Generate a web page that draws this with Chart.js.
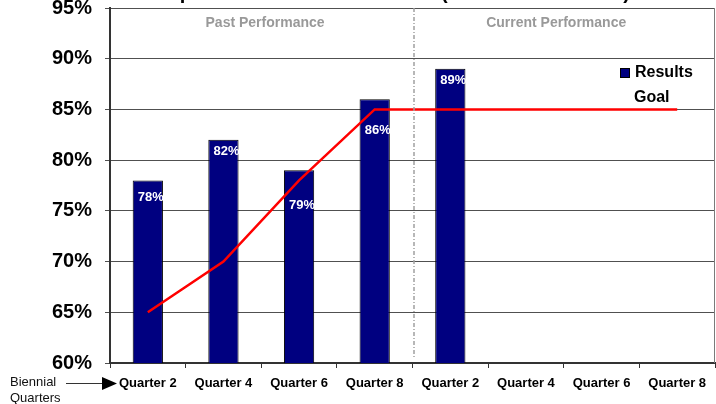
<!DOCTYPE html>
<html>
<head>
<meta charset="utf-8">
<script src="https://cdn.jsdelivr.net/npm/chart.js@4/dist/chart.umd.min.js"></script>
<style>
  html, body { margin: 0; padding: 0; background: #fff; }
  canvas { display: block; }
</style>
</head>
<body>
<canvas id="c" width="716" height="404"></canvas>
<script>
// Biennial quarters, past period then current period
const quarters = ['Quarter 2', 'Quarter 4', 'Quarter 6', 'Quarter 8',
                  'Quarter 2', 'Quarter 4', 'Quarter 6', 'Quarter 8'];
// Measured results (%) – current period only has its first quarter so far
const results = [78, 82, 79, 86, 89, null, null, null];
// Goal (%) per quarter
const goal = [65, 70, 78, 85, 85, 85, 85, 85];
// Section headings and the number of quarters in the past section
const sections = ['Past Performance', 'Current Performance'];
const pastCount = 4;
const seriesNames = ['Results', 'Goal'];
const titleText = 'Compliance Rate Trend Results (Biennial Measures)';
const axisNote = ['Biennial', 'Quarters'];

const FONT = 'Arial, "Liberation Sans", Helvetica, sans-serif';
Chart.defaults.font.family = FONT;

const NAVY = '#000080';
const RED = '#ff0000';

// vertical nudge of each value label below its bar top (px)
const labelDrop = [17, 12, 35, 31, 12];

const extras = {
  id: 'extras',
  afterDraw(chart) {
    const ctx = chart.ctx;
    const area = chart.chartArea;
    const xs = chart.scales.x;
    const step = xs.getPixelForValue(1) - xs.getPixelForValue(0);
    ctx.save();

    // right frame edge of the plot
    ctx.strokeStyle = '#7a7a7a';
    ctx.lineWidth = 1;
    ctx.beginPath();
    ctx.moveTo(Math.round(area.right) - 0.5, area.top);
    ctx.lineTo(Math.round(area.right) - 0.5, area.bottom);
    ctx.stroke();

    // dash-dot divider between past and current periods
    const divX = (xs.getPixelForValue(pastCount - 1) + xs.getPixelForValue(pastCount)) / 2 + 1.5;
    ctx.strokeStyle = '#a0a0a0';
    ctx.lineWidth = 1.5;
    ctx.setLineDash([4, 2, 1, 2]);
    ctx.beginPath();
    ctx.moveTo(divX, area.top);
    ctx.lineTo(divX, area.bottom - 6);
    ctx.stroke();
    ctx.setLineDash([]);

    // section headings
    ctx.fillStyle = '#999999';
    ctx.font = 'bold 14px ' + FONT;
    ctx.textAlign = 'center';
    ctx.textBaseline = 'middle';
    ctx.fillText(sections[0], xs.getPixelForValue(1) + step * 0.55, 23);
    ctx.fillText(sections[1], xs.getPixelForValue(5) + step * 0.4, 23);

    // value labels inside the bars
    const barMeta = chart.getDatasetMeta(1);
    ctx.fillStyle = '#ffffff';
    ctx.font = 'bold 13px ' + FONT;
    barMeta.data.forEach((bar, i) => {
      const v = results[i];
      if (v == null) return;
      ctx.fillText(Math.round(v) + '%', bar.x + 3, bar.y + labelDrop[i]);
    });

    // legend
    ctx.font = 'bold 16px ' + FONT;
    ctx.textAlign = 'left';
    ctx.fillStyle = NAVY;
    ctx.fillRect(620, 68, 10, 10);
    ctx.strokeStyle = '#000';
    ctx.lineWidth = 1;
    ctx.strokeRect(620.5, 68.5, 9, 9);
    ctx.fillStyle = '#000';
    ctx.fillText(seriesNames[0], 635, 73);
    ctx.fillText(seriesNames[1], 634, 98);

    // chart title (runs off the top edge)
    ctx.font = 'bold 20px ' + FONT;
    ctx.textBaseline = 'alphabetic';
    const cut = titleText.indexOf('(');
    const startX = 441 - ctx.measureText(titleText.slice(0, cut)).width;
    ctx.fillText(titleText, startX, -1.5);

    // axis note with arrow pointing at the quarter labels
    ctx.font = '13px ' + FONT;
    ctx.fillStyle = '#111';
    ctx.textBaseline = 'middle';
    ctx.fillText(axisNote[0], 10, 382);
    ctx.fillText(axisNote[1], 10, 398);
    ctx.strokeStyle = '#333';
    ctx.lineWidth = 1;
    ctx.beginPath();
    ctx.moveTo(66, 383.5);
    ctx.lineTo(104, 383.5);
    ctx.stroke();
    ctx.fillStyle = '#000';
    ctx.beginPath();
    ctx.moveTo(102, 377);
    ctx.lineTo(117, 383.5);
    ctx.lineTo(102, 390);
    ctx.closePath();
    ctx.fill();

    ctx.restore();
  }
};

new Chart(document.getElementById('c'), {
  type: 'bar',
  data: {
    labels: quarters,
    datasets: [
      {
        type: 'line',
        label: seriesNames[1],
        data: goal,
        borderColor: RED,
        borderWidth: 2.5,
        pointRadius: 0,
        tension: 0,
        fill: false,
        order: 0
      },
      {
        type: 'bar',
        label: seriesNames[0],
        data: results,
        backgroundColor: NAVY,
        borderColor: '#000',
        borderWidth: 1,
        barPercentage: 0.4,
        categoryPercentage: 1,
        order: 1
      }
    ]
  },
  options: {
    responsive: false,
    animation: false,
    devicePixelRatio: 1,
    layout: { padding: { left: 0, right: 1, top: 8, bottom: 0 } },
    plugins: {
      legend: { display: false },
      tooltip: { enabled: false },
      title: { display: false }
    },
    scales: {
      x: {
        offset: true,
        grid: {
          offset: true,
          drawOnChartArea: false,
          drawTicks: true,
          tickLength: 5,
          color: '#333'
        },
        border: { color: '#333', width: 2 },
        ticks: {
          color: '#000',
          font: { size: 13, weight: 'bold' },
          padding: 8,
          maxRotation: 0,
          autoSkip: false
        },
        afterFit(s) {
          s.height = 41;
          s.paddingLeft = 0;
          s.paddingRight = 0;
        }
      },
      y: {
        min: 60,
        max: 95,
        ticks: {
          stepSize: 5,
          color: '#000',
          font: { size: 20, weight: 'bold' },
          padding: 13,
          callback: v => v + '%'
        },
        grid: {
          color: '#505050',
          lineWidth: 1,
          tickLength: 5
        },
        border: { color: '#333', width: 2 },
        afterFit(s) {
          s.width = 110;
          s.paddingTop = 0;
          s.paddingBottom = 0;
        }
      }
    }
  },
  plugins: [extras]
});
</script>
</body>
</html>
